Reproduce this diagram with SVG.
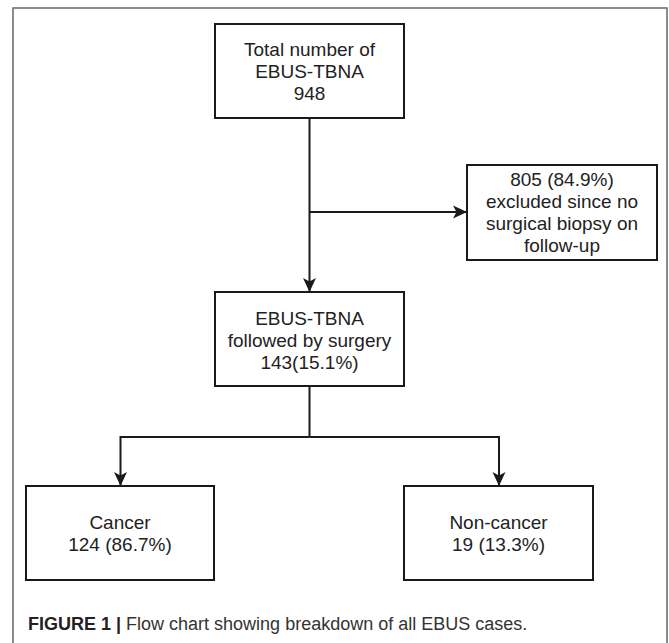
<svg xmlns="http://www.w3.org/2000/svg" width="669" height="643" viewBox="0 0 669 643">
<style>
.box{fill:#fff;stroke:#1a1a1a;stroke-width:2}
.lbl{font-family:"Liberation Sans",Arial,sans-serif;font-size:19px;fill:#222;text-anchor:middle}
.edge{fill:none;stroke:#1a1a1a;stroke-width:2}
.cap{font-family:"Liberation Sans",Arial,sans-serif;font-size:18px;fill:#333}
</style>
<defs>
<marker id="arr" markerUnits="userSpaceOnUse" markerWidth="15" markerHeight="14" refX="14" refY="7" orient="auto">
<path d="M0,0.5 L14,7 L0,13.5 L3.5,7 Z" fill="#1a1a1a"/>
</marker>
</defs>
<rect width="669" height="643" fill="#fff"/>
<path d="M13,643 V8 H667 V643" fill="none" stroke="#666" stroke-width="1.5"/>
<g id="connectors">
<path class="edge" d="M309.5,118 V292" marker-end="url(#arr)"/>
<path class="edge" d="M309.5,212 H467" marker-end="url(#arr)"/>
<path class="edge" d="M309.5,386 V437"/>
<path class="edge" d="M309.5,437 H120.5 V486" marker-end="url(#arr)"/>
<path class="edge" d="M309.5,437 H499 V486" marker-end="url(#arr)"/>
</g>
<g id="total">
<rect class="box" x="215" y="24" width="189" height="94"/>
<text class="lbl" x="309.5" y="56">Total number of</text>
<text class="lbl" x="309.5" y="78">EBUS-TBNA</text>
<text class="lbl" x="309.5" y="100">948</text>
</g>
<g id="excluded">
<rect class="box" x="467" y="165" width="190" height="95"/>
<text class="lbl" x="562" y="186">805 (84.9%)</text>
<text class="lbl" x="562" y="208">excluded since no</text>
<text class="lbl" x="562" y="230">surgical biopsy on</text>
<text class="lbl" x="562" y="252">follow-up</text>
</g>
<g id="surgery">
<rect class="box" x="215" y="292" width="189" height="94"/>
<text class="lbl" x="309.5" y="325">EBUS-TBNA</text>
<text class="lbl" x="309.5" y="347">followed by surgery</text>
<text class="lbl" x="309.5" y="369">143(15.1%)</text>
</g>
<g id="cancer">
<rect class="box" x="26" y="486" width="188" height="94"/>
<text class="lbl" x="120" y="529">Cancer</text>
<text class="lbl" x="120" y="551">124 (86.7%)</text>
</g>
<g id="noncancer">
<rect class="box" x="404" y="486" width="189" height="94"/>
<text class="lbl" x="498.5" y="529">Non-cancer</text>
<text class="lbl" x="498.5" y="551">19 (13.3%)</text>
</g>
<text class="cap" x="28" y="630"><tspan font-weight="bold" fill="#222">FIGURE 1</tspan><tspan font-weight="bold" fill="#222"> | </tspan><tspan>Flow chart showing breakdown of all EBUS cases.</tspan></text>
</svg>
